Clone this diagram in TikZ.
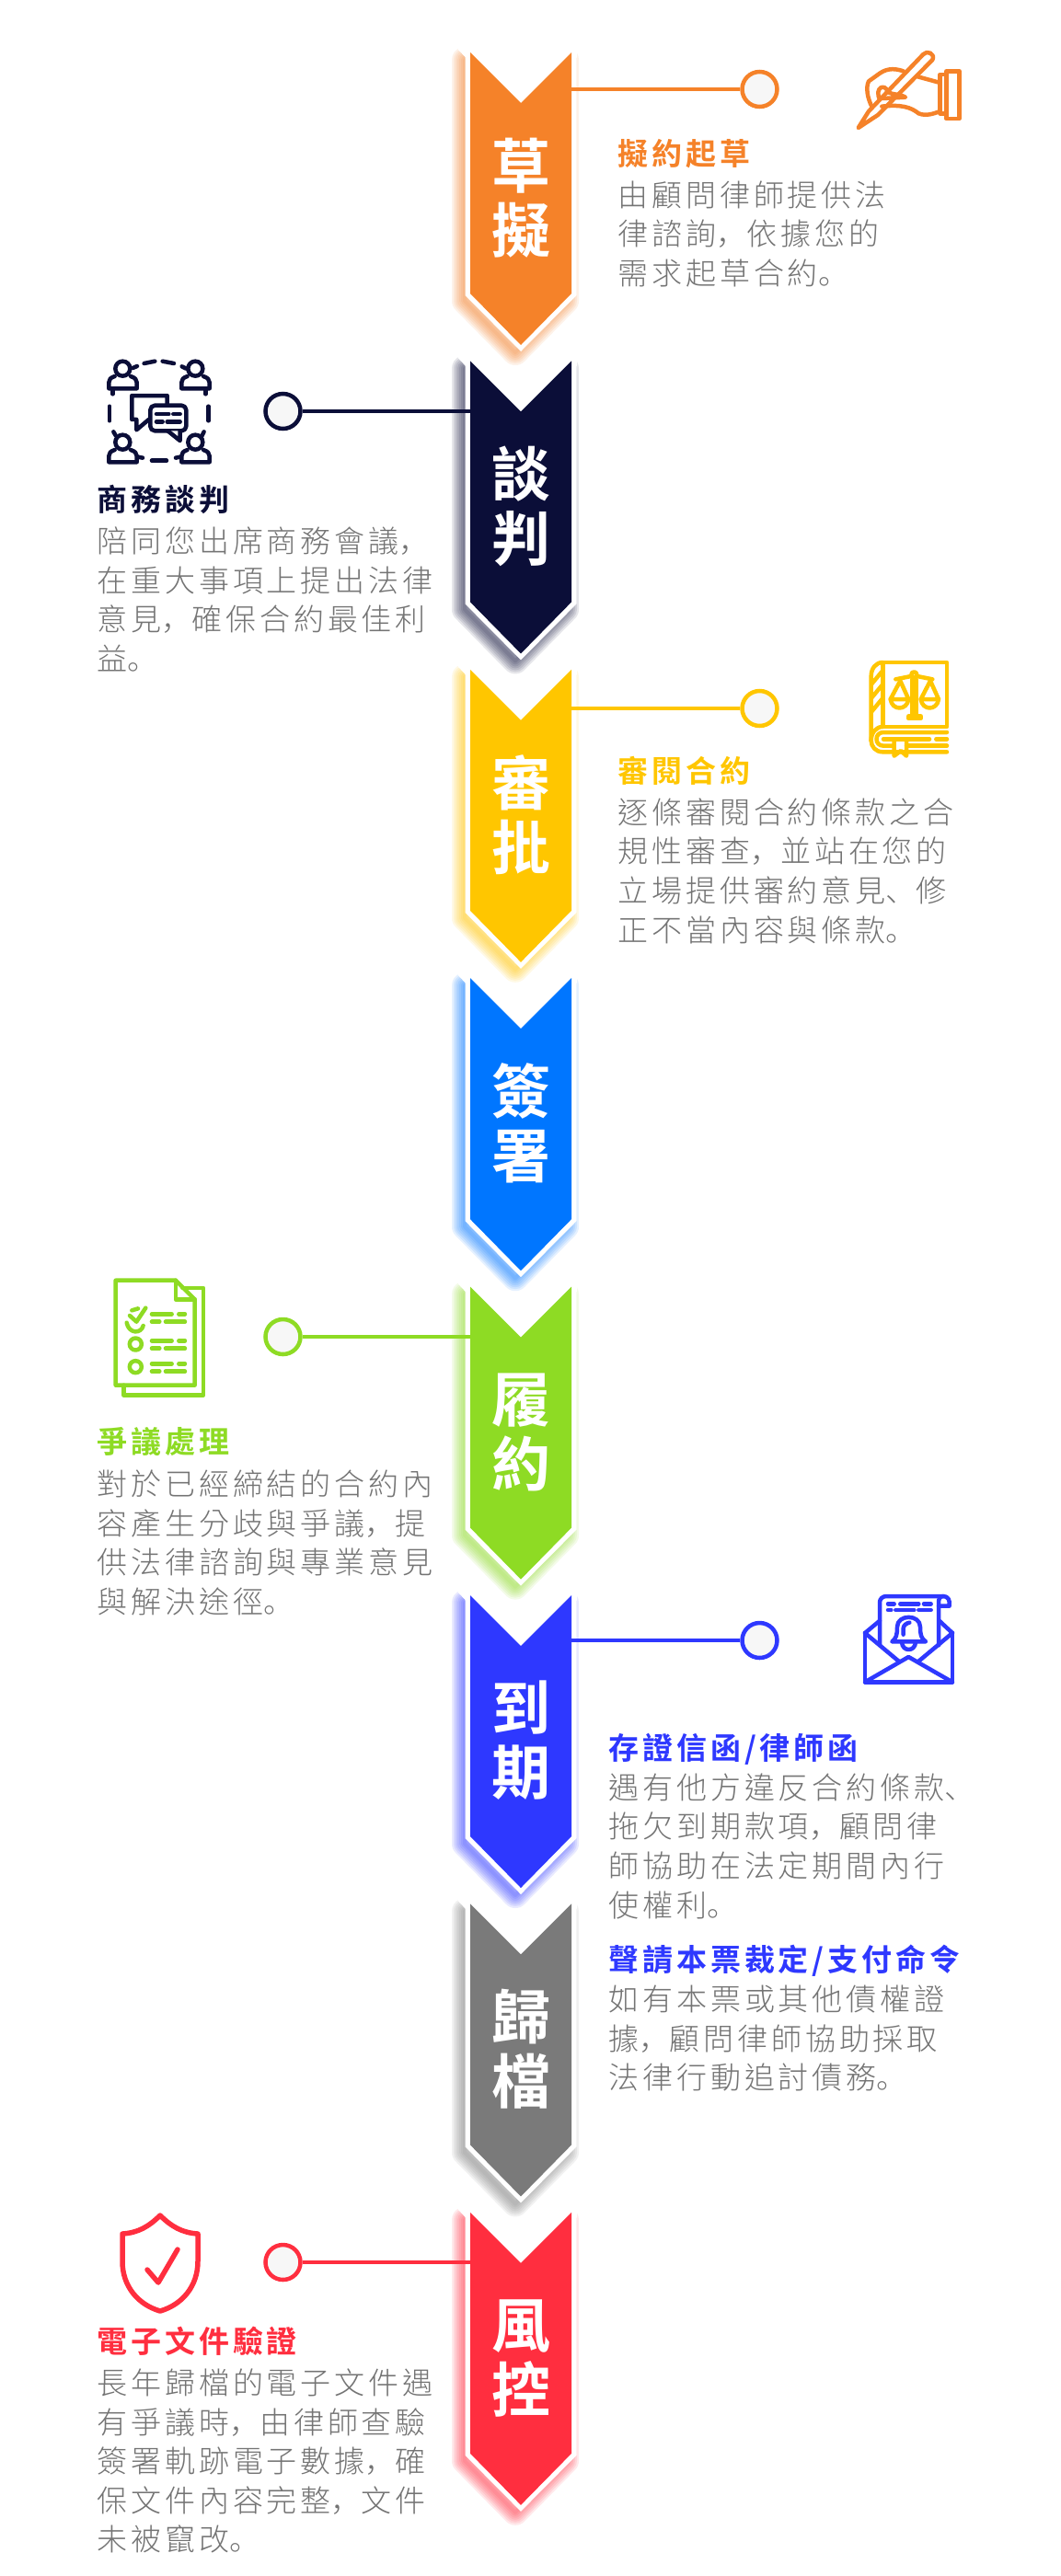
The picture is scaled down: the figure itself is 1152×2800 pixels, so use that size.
\documentclass[tikz,border=0pt]{standalone}
\usepackage{fontspec}
\usepackage{xcolor}
\setmainfont{Noto Sans CJK TC}
\newfontfamily\stepfont{Noto Sans CJK TC Bold}
\newfontfamily\titlefont[LetterSpace=12]{Noto Sans CJK TC Bold}
\newfontfamily\bodyfont[LetterSpace=12]{Noto Sans CJK TC Light}
\newfontfamily\punctfont[LetterSpace=12]{Noto Sans CJK JP Light}
\newcommand{\pn}[1]{{\punctfont #1}}
\definecolor{cDraft}{HTML}{F58229}
\definecolor{cTalk}{HTML}{0B0E38}
\definecolor{cReview}{HTML}{FFC600}
\definecolor{cSign}{HTML}{0076FF}
\definecolor{cKeep}{HTML}{8EDB24}
\definecolor{cDue}{HTML}{2E38FF}
\definecolor{cFile}{HTML}{7A7A7A}
\definecolor{cRisk}{HTML}{FF2E3F}
\definecolor{cBody}{HTML}{747474}
\definecolor{cDot}{HTML}{F7F7F7}
\usetikzlibrary{positioning}

\newcommand{\chevpath}[1]{(511,#1) -- (566,#1+55) -- (621,#1) -- (621,#1+262) -- (566,#1+318) -- (511,#1+262) -- cycle}
\newcommand{\chevedge}[1]{(505.5,#1-3) -- (566,#1+60) -- (626.5,#1-3) -- (626.5,#1+264) -- (566,#1+325) -- (505.5,#1+264) -- cycle}

\begin{document}
\begin{tikzpicture}[
  x=1pt, y=-1pt,
  stepname/.style={text=white, font=\stepfont\fontsize{64}{70}\selectfont,
                   align=center, inner sep=0pt},
  ttl/.style={anchor=west, inner sep=0pt, font=\titlefont\fontsize{33}{40}\selectfont},
  txt/.style={anchor=north west, inner sep=0pt, align=left, text=cBody,
              font=\bodyfont\fontsize{33}{42.6}\selectfont},
  dot/.style={circle, fill=cDot, line width=4.5pt, minimum size=38pt, inner sep=0pt},
  conn/.style={line width=4pt},
  ico/.style={line width=4.5pt, line join=round, line cap=round},
  icoscope/.style={x=0.3333pt, y=-0.3333pt},
]
  \useasboundingbox (0,0) rectangle (1152,2800);
  \fill[white] (0,0) rectangle (1152,2800);

  % ── Chevrons, last one first so each glow lies on the next notch ──
  \foreach \y/\col in {2404.8/cRisk, 2069.4/cFile, 1734/cDue, 1398.6/cKeep,
                       1063.2/cSign, 727.8/cReview, 392.4/cTalk, 57/cDraft} {
    \foreach \w in {4,8,...,28}
      \draw[\col, opacity=0.1, line width=\w pt, line join=round,
            shift={(-6pt,-8pt)}] \chevpath{\y};
    \fill[white] (498,\y-14) -- (627,\y-14) -- (627,\y+5) -- (566,\y+65) -- (505.5,\y+5) -- (498,\y-3) -- cycle;
    \fill[white] \chevedge{\y};
    \fill[\col] \chevpath{\y};
  }

  % ── Step names ─────────────────────────────────
  \node[stepname] (s1) at (566,215)  {草\\擬};
  \node[stepname] (s2) at (566,550)  {談\\判};
  \node[stepname] (s3) at (566,886)  {審\\批};
  \node[stepname] (s4) at (566,1221) {簽\\署};
  \node[stepname] (s5) at (566,1557) {履\\約};
  \node[stepname] (s6) at (566,1892) {到\\期};
  \node[stepname] (s7) at (566,2227) {歸\\檔};
  \node[stepname] (s8) at (566,2563) {風\\控};

  % ── Connectors and end dots ────────────────────
  \coordinate (e1) at (621,97);
  \coordinate (e2) at (511,447);
  \coordinate (e3) at (621,770);
  \coordinate (e5) at (511,1453);
  \coordinate (e6) at (621,1783);
  \coordinate (e8) at (511,2459);
  \node[dot, draw=cDraft]  (d1) at (825.5,97)   {};
  \node[dot, draw=cTalk]   (d2) at (307.5,447)  {};
  \node[dot, draw=cReview] (d3) at (825.5,770)  {};
  \node[dot, draw=cKeep]   (d5) at (307.5,1453) {};
  \node[dot, draw=cDue]    (d6) at (825.5,1783) {};
  \node[dot, draw=cRisk]   (d8) at (307.5,2459) {};
  \draw[conn, cDraft]  (e1) -- (d1);
  \draw[conn, cTalk]   (e2) -- (d2);
  \draw[conn, cReview] (e3) -- (d3);
  \draw[conn, cKeep]   (e5) -- (d5);
  \draw[conn, cDue]    (e6) -- (d6);
  \draw[conn, cRisk]   (e8) -- (d8);

  % ── Texts ──────────────────────────────────────
  \node[ttl, text=cDraft] (t1) at (671,167) {擬約起草};
  \node[txt] (b1) at (671,196.5) {由顧問律師提供法\\律諮詢\pn{，}依據您的\\需求起草合約\pn{。}};

  \node[ttl, text=cTalk] (t2) at (105,543) {商務談判};
  \node[txt] (b2) at (105,572.5) {陪同您出席商務會議\pn{，}\\在重大事項上提出法律\\意見\pn{，}確保合約最佳利\\益\pn{。}};

  \node[ttl, text=cReview] (t3) at (671,838) {審閱合約};
  \node[txt] (b3) at (671,867.5) {逐條審閱合約條款之合\\規性審查\pn{，}並站在您的\\立場提供審約意見\pn{、}修\\正不當內容與條款\pn{。}};

  \node[ttl, text=cKeep] (t5) at (105,1567) {爭議處理};
  \node[txt] (b5) at (105,1597.5) {對於已經締結的合約內\\容產生分歧與爭議\pn{，}提\\供法律諮詢與專業意見\\與解決途徑\pn{。}};

  \node[ttl, text=cDue] (t6) at (661,1901) {存證信函/律師函};
  \node[txt] (b6) at (661,1927.5) {遇有他方違反合約條款\pn{、}\\拖欠到期款項\pn{，}顧問律\\師協助在法定期間內行\\使權利\pn{。}};

  \node[ttl, text=cDue] (t7) at (661,2131) {聲請本票裁定/支付命令};
  \node[txt] (b7) at (661,2157.5) {如有本票或其他債權證\\據\pn{，}顧問律師協助採取\\法律行動追討債務\pn{。}};

  \node[ttl, text=cRisk] (t8) at (105,2545) {電子文件驗證};
  \node[txt] (b8) at (105,2574.5) {長年歸檔的電子文件遇\\有爭議時\pn{，}由律師查驗\\簽署軌跡電子數據\pn{，}確\\保文件內容完整\pn{，}文件\\未被竄改\pn{。}};

  % ── Icon: hand with pen ────────────────────────
  \begin{scope}[shift={(920pt,-45pt)}, icoscope, ico, cDraft]
    \draw (38,282) -- (72,228) -- (250,42) .. controls (262,28) and (290,40) .. (280,60) -- (102,240) -- cycle;
    \draw (185,97) .. controls (150,85) and (125,90) .. (100,110) -- (72,130) .. controls (62,150) and (68,185) .. (82,212);
    \draw (108,190) .. controls (90,150) and (125,135) .. (135,165) .. controls (150,175) and (180,172) .. (192,182) -- (118,186);
    \draw (115,212) .. controls (180,205) and (210,215) .. (235,235) .. controls (260,245) and (285,235) .. (305,228);
    \draw (232,115) -- (305,135);
    \draw (305,108) rectangle (325,235);
    \draw (325,97) rectangle (368,252);
  \end{scope}

  % ── Icon: people and speech bubbles ────────────
  \begin{scope}[shift={(105pt,-380pt)}, icoscope, ico, cTalk]
    \foreach \hx/\hy in {85/62, 322/62, 85/302, 322/302} {
      \draw (\hx,\hy) circle[radius=8pt];
      \draw (\hx-26,\hy+25) .. controls (\hx-40,\hy+30) and (\hx-45,\hy+35) .. (\hx-45,\hy+45) -- (\hx-45,\hy+65)
            -- (\hx+46,\hy+65) -- (\hx+46,\hy+45) .. controls (\hx+46,\hy+35) and (\hx+40,\hy+30) .. (\hx+26,\hy+25);
    }
    \draw (155,45) -- (190,38);
    \draw (215,38) -- (252,45);
    \draw (365,185) -- (365,232);
    \draw (42,185) -- (42,232);
    \draw (180,362) -- (228,362);
    \draw (118,60) -- (132,54);
    \draw (278,55) -- (292,62);
    \draw (52,130) -- (52,145);
    \draw (355,130) -- (355,145);
    \draw (55,268) -- (62,280);
    \draw (350,268) -- (343,282);
    \draw (135,350) -- (150,353);
    \draw (258,353) -- (272,350);
    \draw (230,182) -- (230,150) -- (115,150) -- (115,228) -- (130,228) -- (130,262) -- (170,228);
    \draw[rounded corners=5pt] (175,182) rectangle (292,265);
    \draw[fill=white] (232,265) -- (272,297) -- (272,265);
    \draw (195,210) -- (235,210);
    \draw (250,210) -- (272,210);
    \draw (195,235) -- (215,235);
    \draw (230,235) -- (272,235);
  \end{scope}

  % ── Icon: law book ─────────────────────────────
  \begin{scope}[shift={(930pt,-710pt)}, icoscope, ico, cReview]
    \draw (88,30) rectangle (297,240);
    \draw (88,30) .. controls (65,30) and (50,50) .. (50,75) -- (50,285) .. controls (50,305) and (65,322) .. (88,322) -- (297,322);
    \draw (88,240) .. controls (65,240) and (50,260) .. (50,285);
    \draw (297,258) -- (90,258) .. controls (60,258) and (60,302) .. (90,302) -- (125,302);
    \draw (165,302) -- (297,302);
    \draw (90,280) -- (240,280);
    \draw (262,280) -- (297,280);
    \draw (125,285) -- (125,335) -- (147,318) -- (165,335) -- (165,285);
    \draw (52,100) -- (85,60);
    \draw (52,145) -- (85,105);
    \draw (52,190) -- (85,150);
    \draw (183,85) -- (183,205);
    \draw (197,85) -- (197,205);
    \draw (172,205) rectangle (212,213);
    \draw (190,70) circle[radius=3pt];
    \draw (130,85) -- (180,75);
    \draw (200,75) -- (250,85);
    \draw (145,90) -- (113,150) -- (172,150) -- cycle;
    \draw (113,150) .. controls (118,188) and (167,188) .. (172,150);
    \draw (243,90) -- (212,150) -- (270,150) -- cycle;
    \draw (212,150) .. controls (217,188) and (265,188) .. (270,150);
  \end{scope}

  % ── Icon: checklist ────────────────────────────
  \begin{scope}[shift={(115pt,-1385pt)}, icoscope, ico, cKeep]
    \draw (228,20) -- (32,20) -- (32,362) -- (290,362) -- (290,82) -- cycle;
    \draw (228,20) -- (228,82) -- (290,82);
    \draw (250,45) -- (318,45) -- (318,395) -- (58,395) -- (58,362);
    \draw (78,135) -- (100,155) -- (130,110);
    \draw (85,118) -- (105,112);
    \draw (68,158) .. controls (75,195) and (115,195) .. (122,168);
    \draw (97,228) circle[radius=6.5pt];
    \draw (97,302) circle[radius=6.5pt];
    \foreach \ly in {130,217,292} {
      \draw (150,\ly) -- (215,\ly);
      \draw (238,\ly) -- (258,\ly);
      \draw (150,\ly+25) -- (175,\ly+25);
      \draw (195,\ly+25) -- (258,\ly+25);
    }
  \end{scope}

  % ── Icon: letter with bell ─────────────────────
  \begin{scope}[shift={(930pt,-1725pt)}, icoscope, ico, cDue]
    \draw (30,150) -- (30,310) -- (315,310) -- (315,150);
    \draw (30,150) -- (78,110);
    \draw (315,150) -- (272,110);
    \draw (30,310) -- (172,228) -- (315,310);
    \draw (30,150) -- (140,242);
    \draw (315,150) -- (205,242);
    \draw (78,190) -- (78,50) .. controls (78,38) and (88,30) .. (100,30) -- (285,30) .. controls (300,30) and (308,42) .. (305,62) -- (270,62);
    \draw (270,190) -- (270,50) .. controls (270,38) and (275,30) .. (285,30);
    \draw (105,55) -- (125,55);
    \draw (145,55) -- (205,55);
    \draw (222,55) -- (245,55);
    \draw (105,75) -- (115,75);
    \draw (130,75) -- (190,75);
    \draw (205,75) -- (245,75);
    \draw (118,178) .. controls (132,168) and (135,155) .. (135,130) .. controls (135,88) and (210,88) .. (210,130) .. controls (210,155) and (213,168) .. (228,178) -- cycle;
    \draw (150,180) .. controls (152,212) and (193,212) .. (195,180);
    \draw (155,155) -- (155,135) .. controls (155,125) and (165,118) .. (175,116);
  \end{scope}

  % ── Icon: shield ───────────────────────────────
  \draw[cRisk, line width=5.5pt, line join=round, line cap=round]
    (174,2408) .. controls (162,2420) and (150,2427) .. (133,2428) -- (133,2458)
    .. controls (133,2485) and (150,2505) .. (174,2512)
    .. controls (198,2505) and (215,2485) .. (215,2458) -- (215,2428)
    .. controls (198,2427) and (186,2420) .. (174,2408) -- cycle;
  \draw[cRisk, line width=5.5pt, line join=round, line cap=round]
    (160,2467) -- (172,2481) -- (193,2445);
\end{tikzpicture}
\end{document}
